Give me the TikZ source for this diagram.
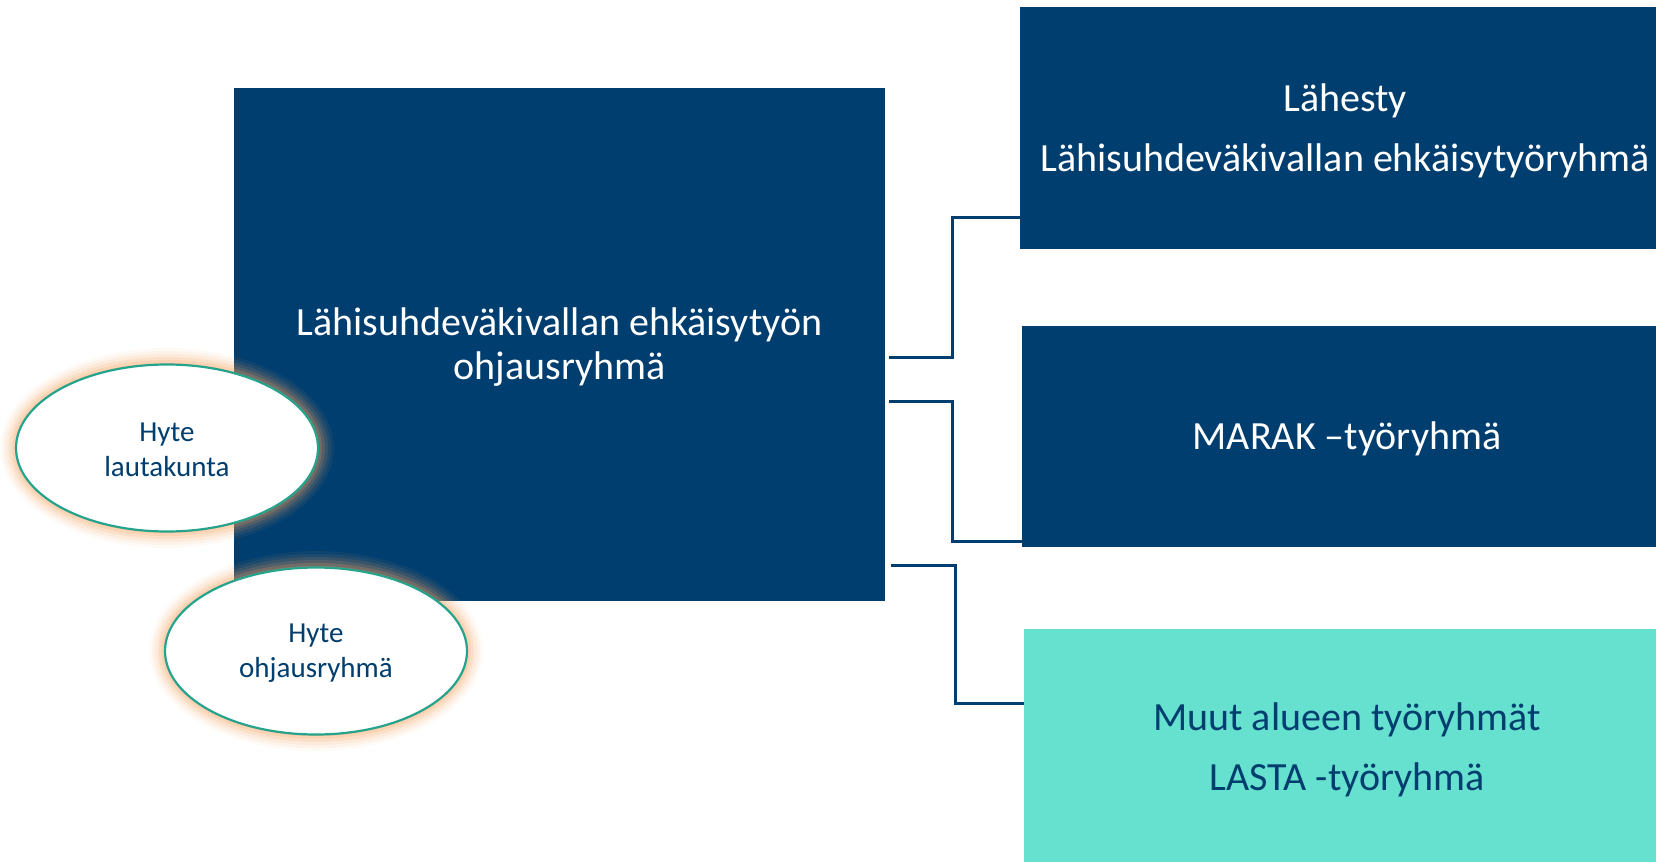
\documentclass[tikz,border=0pt]{standalone}
\usepackage{fontspec}
\setmainfont{Carlito}
\usetikzlibrary{shapes.geometric,calc}
\definecolor{navy}{HTML}{003E6F}
\definecolor{teal1}{HTML}{66E0CF}
\definecolor{ring}{HTML}{26A38C}
\definecolor{glow}{HTML}{F4A460}
\tikzset{
  x=1pt,y=-1pt,
  bluebox/.style={fill=navy,draw=none,text=white,align=center},
  tealbox/.style={fill=teal1,draw=none,text=navy,align=center},
  oval/.style={ellipse,fill=white,draw=ring,line width=2.2pt,
    minimum width=302pt,minimum height=167pt,inner sep=0pt},
  ovaltext/.style={text=navy,align=center,font=\fontsize{29}{35}\selectfont},
  link/.style={draw=navy,line width=3pt},
}
\newcommand{\glowat}[1]{%
  \foreach \k/\o in {16/0.06,13/0.08,10/0.11,7/0.15,4/0.2,1/0.3}{
    \fill[glow,opacity=\o] (#1) ellipse ({151+\k} and {84+\k});
  }}
\begin{document}
\begin{tikzpicture}
\useasboundingbox (0,0) rectangle (1656,862);
% boxes
\node[bluebox,minimum width=651pt,minimum height=513pt,inner sep=0pt,anchor=north west] (main) at (234,88) {};
\node[text=white,align=center,font=\fontsize{40}{44}\selectfont] (maint) at (559.5,347) {Lähisuhdeväkivallan ehkäisytyön\\ohjausryhmä};
\node[bluebox,minimum width=636pt,minimum height=242pt,inner sep=0pt,anchor=north west] (top) at (1020,7) {};
\node[text=white,align=center,font=\fontsize{40}{60}\selectfont] (topt) at (1345,131) {Lähesty\\Lähisuhdeväkivallan ehkäisytyöryhmä};
\node[bluebox,minimum width=634pt,minimum height=221pt,inner sep=0pt,anchor=north west] (mid) at (1022,326) {};
\node[text=white,font=\fontsize{40}{44}\selectfont] (midt) at (1347,439) {MARAK –työryhmä};
\node[tealbox,minimum width=632pt,minimum height=233pt,inner sep=0pt,anchor=north west] (bot) at (1024,629) {};
\node[text=navy,align=center,font=\fontsize{40}{60}\selectfont] (bott) at (1347,750) {Muut alueen työryhmät\\LASTA -työryhmä};
% connectors
\coordinate (a1) at (889,357);
\coordinate (a2) at (889,401);
\coordinate (a3) at (891,565);
\draw[link] (a1) -| (952,217) -- (top.west |- 0,217);
\draw[link] (a2) -| (952,541) -- (mid.west |- 0,541);
\draw[link] (a3) -| (955,703) -- (bot.west |- 0,703);
% ellipses
\glowat{167,448}
\node[oval] (hl) at (167,448) {};
\node[ovaltext] (hlt) at (167,450) {Hyte\\lautakunta};
\glowat{316,651}
\node[oval] (ho) at (316,651) {};
\node[ovaltext] (hot) at (316,653) {Hyte\\ohjausryhmä};
\end{tikzpicture}
\end{document}
